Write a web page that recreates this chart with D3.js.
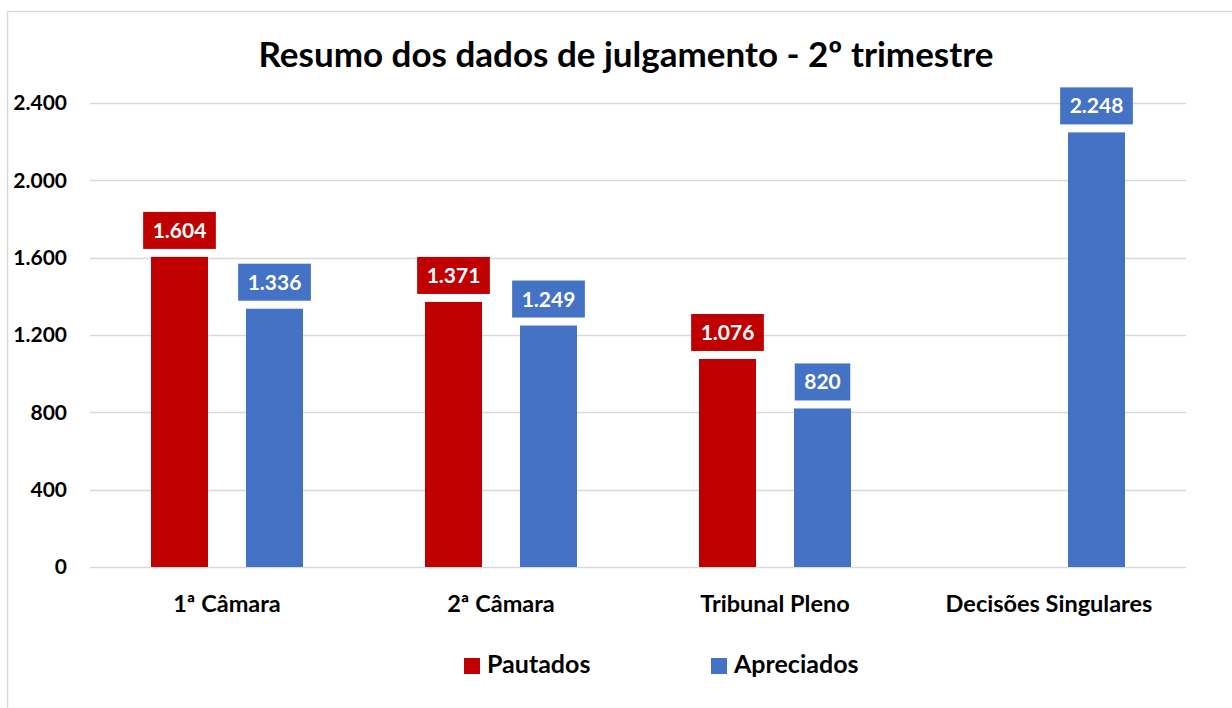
<!DOCTYPE html>
<html>
<head>
<meta charset="utf-8">
<script src="https://cdn.jsdelivr.net/npm/d3@7"></script>
<style>
  body { margin: 0; background: #fff; }
  svg { display: block; font-family: Lato, "Open Sans", sans-serif; }
</style>
</head>
<body>
<div id="chart"></div>
<script>
// chart data
var categories = ['1ª Câmara', '2ª Câmara', 'Tribunal Pleno', 'Decisões Singulares'];
var seriesNames = ['Pautados', 'Apreciados'];
var pautados = [1604, 1371, 1076, 0];
var apreciados = [1336, 1249, 820, 2248];
var yTicks = [0, 400, 800, 1200, 1600, 2000, 2400];
var colors = ['#c00000', '#4472c4'];

var width = 1232,
    height = 708;

var margin = { top: 103, right: 46, bottom: 141, left: 90 };

var svg = d3
    .select('#chart')
    .append('svg')
    .attr('width', width)
    .attr('height', height);

// outer chart frame
svg.append('rect')
    .attr('x', 7.5)
    .attr('y', 11.5)
    .attr('width', width)
    .attr('height', height)
    .attr('fill', 'none')
    .attr('stroke', '#d9d9d9')
    .attr('stroke-width', 1.5);

svg.append('text')
    .attr('x', 626)
    .attr('y', 67)
    .attr('text-anchor', 'middle')
    .style('font-size', '35px')
    .style('font-weight', 'bold')
    .attr('fill', '#000')
    .text('Resumo dos dados de julgamento - 2º trimestre');

var x0 = d3
    .scaleBand()
    .domain(categories)
    .range([margin.left, width - margin.right]);

var y = d3
    .scaleLinear()
    .domain([0, 2400])
    .range([height - margin.bottom, margin.top]);

var barWidth = 57,
    barGap = 38;

var x1 = d3
    .scaleOrdinal()
    .domain(seriesNames)
    .range([-(barWidth + barGap) / 2, (barWidth + barGap) / 2]);

// gridlines
svg.append('g')
    .selectAll('line')
    .data(yTicks)
    .enter()
    .append('line')
    .attr('x1', margin.left)
    .attr('x2', width - margin.right)
    .attr('y1', function (d) { return Math.round(y(d)) + 0.5; })
    .attr('y2', function (d) { return Math.round(y(d)) + 0.5; })
    .attr('stroke', '#d9d9d9')
    .attr('stroke-width', 1.5);

// y axis labels
var yAxis = d3
    .axisLeft(y)
    .tickValues(yTicks)
    .tickSize(0)
    .tickPadding(0)
    .tickFormat(function (d) { return d3.format(',')(d).replace(/,/g, '.'); });

var gy = svg.append('g')
    .attr('transform', 'translate(67,0)')
    .call(yAxis);
gy.select('.domain').remove();
gy.selectAll('text')
    .style('font-size', '21px')
    .style('font-weight', 'bold')
    .style('font-family', 'Lato, "Open Sans", sans-serif')
    .attr('fill', '#000');

// x axis labels
var xAxis = d3.axisBottom(x0).tickSize(0).tickPadding(0);
var gx = svg.append('g')
    .attr('transform', 'translate(0,' + (height - margin.bottom) + ')')
    .call(xAxis);
gx.select('.domain').remove();
gx.selectAll('text')
    .attr('dy', '45px')
    .style('font-size', '23.5px')
    .style('font-weight', 'bold')
    .style('font-family', 'Lato, "Open Sans", sans-serif')
    .attr('fill', '#000');

var rows = categories.map(function (c, i) {
    return [
        { cat: c, name: seriesNames[0], value: pautados[i], color: colors[0] },
        { cat: c, name: seriesNames[1], value: apreciados[i], color: colors[1] }
    ];
});

var groups = svg.append('g')
    .selectAll('g')
    .data(rows)
    .enter()
    .append('g')
    .attr('transform', function (d) {
        return 'translate(' + (x0(d[0].cat) + x0.bandwidth() / 2) + ',0)';
    });

var items = groups
    .selectAll('g')
    .data(function (d) { return d.filter(function (e) { return e.value > 0; }); })
    .enter()
    .append('g');

items.append('rect')
    .attr('x', function (d) { return x1(d.name) - barWidth / 2; })
    .attr('y', function (d) { return y(d.value); })
    .attr('width', barWidth)
    .attr('height', function (d) { return y(0) - y(d.value); })
    .attr('fill', function (d) { return d.color; });

// data labels in coloured boxes
items.each(function (d) {
    var g = d3.select(this);
    var cx = x1(d.name);
    var top = y(d.value);
    var box = g.append('rect')
        .attr('fill', d.color);
    var t = g.append('text')
        .attr('x', cx)
        .attr('y', top - 19)
        .attr('text-anchor', 'middle')
        .style('font-size', '21px')
        .style('font-weight', 'bold')
        .attr('fill', '#fff')
        .text(d3.format(',')(d.value).replace(/,/g, '.'));
    var w = t.node().getComputedTextLength() + 19;
    box.attr('x', cx - w / 2)
        .attr('y', top - 45)
        .attr('width', w)
        .attr('height', 37);
});

// legend
var legend = svg.append('g')
    .selectAll('g')
    .data(seriesNames)
    .enter()
    .append('g')
    .attr('transform', function (d, i) {
        return 'translate(' + [464, 711][i] + ',658)';
    });

legend.append('rect')
    .attr('width', 16)
    .attr('height', 16)
    .attr('fill', function (d, i) { return colors[i]; });

legend.append('text')
    .attr('x', 23)
    .attr('y', 15)
    .style('font-size', '25px')
    .style('font-weight', 'bold')
    .attr('fill', '#000')
    .text(function (d) { return d; });
</script>
</body>
</html>
